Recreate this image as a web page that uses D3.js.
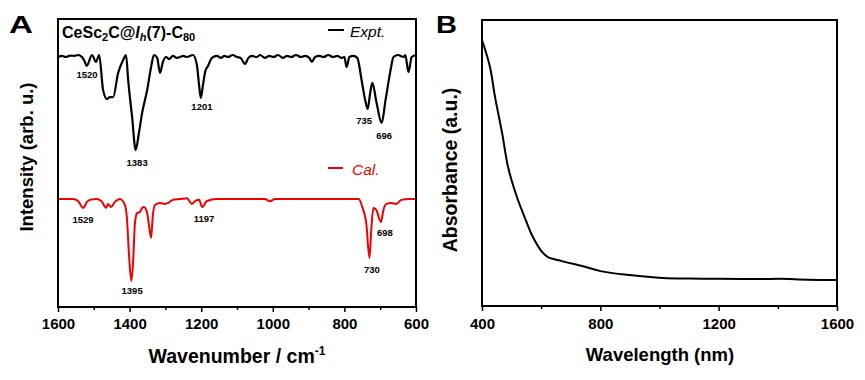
<!DOCTYPE html>
<html>
<head>
    <meta charset="utf-8">
    <title>CeSc2C@Ih(7)-C80 IR and UV-vis-NIR</title>
    <script src="https://d3js.org/d3.v7.min.js"></script>
    <style>
        body { margin: 0; background: #fff; }
        svg text { font-family: Arial, "Liberation Sans", sans-serif; }
        .tick text { font-size: 15px; font-weight: bold; fill: #000; }
        .tick line { stroke: #000; stroke-width: 1.5px; }
        .frame { fill: none; stroke: #000; stroke-width: 2px; }
        .axis-title { font-weight: bold; fill: #000; }
        .peak { font-size: 9.5px; font-weight: bold; fill: #000; text-anchor: middle; }
    </style>
</head>
<body>
    <div id="chart"></div>
    <script>
        // panel A: IR spectra, wavenumber (cm-1) / intensity (arb. u.)
        const exptWave = [1600, 1589, 1578, 1566, 1555, 1544, 1533, 1525, 1520, 1505, 1494, 1485,
            1474, 1463, 1455, 1446, 1432, 1418, 1410, 1404, 1393, 1383, 1374, 1365, 1351, 1340,
            1332, 1323, 1315, 1307, 1298, 1290, 1279, 1268, 1259, 1250, 1240, 1223, 1212, 1206,
            1201, 1195, 1189, 1181, 1170, 1156, 1145, 1135, 1125, 1112, 1100, 1090, 1078, 1068,
            1058, 1045, 1035, 1022, 1010, 998, 985, 972, 960, 948, 935, 922, 910, 898, 891, 882,
            870, 858, 845, 832, 820, 808, 800, 794, 786, 775, 764, 752, 742, 735, 728, 722, 710,
            696, 685, 671, 663, 650, 635, 630, 621, 612, 600];
        const exptInt = [86.8, 87.2, 86.8, 87.3, 87.2, 87.5, 86.8, 85.1, 83.7, 87.5, 85.1, 87.5,
            75.3, 72.2, 72.9, 72.9, 81.3, 85.8, 87.5, 78.8, 66.0, 54.5, 60.4, 67.4, 75.3, 83.3,
            87.5, 86.5, 81.3, 85.1, 86.8, 86.1, 87.2, 86.5, 86.8, 87.2, 86.8, 87.5, 84.0, 77.1,
            72.6, 77.1, 81.6, 83.7, 86.5, 87.2, 86.5, 87.2, 86.8, 87.5, 86.8, 86.5, 84.4, 86.5,
            87.2, 86.8, 87.5, 86.5, 87.2, 86.8, 87.5, 86.5, 87.2, 86.8, 87.5, 86.8, 87.2, 86.5, 85.1, 86.8,
            87.2, 86.8, 87.5, 86.8, 87.2, 86.5, 86.8, 83.3, 86.8, 87.2, 86.5, 78.8, 71.9, 68.8, 74.3, 77.8, 70.8,
            63.9, 71.9, 82.3, 86.8, 87.5, 86.8, 87.5, 81.6, 86.8, 87.5];

        const calWave = [1600, 1580, 1558, 1544, 1530, 1519, 1511, 1491, 1477, 1466, 1460, 1452,
            1441, 1427, 1413, 1407, 1402, 1395, 1390, 1385, 1379, 1371, 1365, 1360, 1351, 1346,
            1340, 1335, 1329, 1315, 1301, 1293, 1279, 1259, 1240, 1226, 1217, 1206, 1197, 1184,
            1156, 1100, 1050, 1022, 1008, 994, 900, 800, 760, 750, 739, 730, 725, 719, 711, 698,
            691, 683, 669, 655, 641, 620, 600];
        const calInt = [37.5, 37.5, 37.5, 36.8, 34.4, 36.5, 37.2, 37.5, 36.5, 34.4, 35.8, 34.7,
            36.5, 37.5, 35.4, 30.2, 18.8, 9.0, 16.3, 29.2, 32.6, 33.0, 34.4, 34.7, 32.6, 28.5,
            24.0, 31.9, 35.4, 36.1, 35.8, 36.1, 37.2, 37.5, 37.8, 35.8, 36.8, 37.2, 34.7, 36.8,
            37.5, 37.5, 37.5, 37.5, 36.7, 37.5, 37.5, 37.5, 37.5, 34.7, 29.2, 17.0, 26.7, 34.4, 33.7, 29.5,
            33.7, 35.8, 36.1, 35.8, 37.2, 37.5, 37.5];

        // peak labels: text, anchor wavenumber, anchor intensity
        const exptPeaks = ["1520", "1383", "1201", "735", "696"];
        const exptPeakWave = [1519, 1379, 1198, 745, 689];
        const exptPeakInt = [79.5, 49.0, 68.4, 63.5, 58.3];
        const calPeaks = ["1529", "1395", "1197", "730", "698"];
        const calPeakWave = [1530, 1393, 1192, 723, 687];
        const calPeakInt = [29.2, 4.5, 29.5, 11.8, 24.7];

        const waveTicks = [1600, 1400, 1200, 1000, 800, 600];
        const waveMinor = [1500, 1300, 1100, 900, 700];

        // panel B: absorption spectrum
        const absWave = [400, 427, 444, 468, 488, 518, 545, 572, 603, 623, 670, 738, 800, 900,
            1012, 1100, 1194, 1280, 1350, 1407, 1500, 1600];
        const absVal = [0.930, 0.836, 0.731, 0.605, 0.486, 0.381, 0.308, 0.241, 0.189, 0.171,
            0.157, 0.140, 0.122, 0.108, 0.098, 0.096, 0.095, 0.094, 0.094, 0.095, 0.092, 0.091];

        const lenTicks = [400, 800, 1200, 1600];
        const lenMinor = [600, 1000, 1400];

        const width = 865, height = 380;
        const red = "#f00000";

        const svg = d3.select("#chart").append("svg")
            .attr("width", width)
            .attr("height", height);

        // ---------- panel A ----------
        const xA = d3.scaleLinear().domain([1600, 600]).range([58, 416]);
        const yA = d3.scaleLinear().domain([0, 100]).range([307, 19]);

        const gA = svg.append("g");

        gA.append("g")
            .attr("transform", "translate(0,307)")
            .call(d3.axisBottom(xA).tickValues(waveMinor).tickSize(3).tickFormat(""))
            .call(g => g.select(".domain").remove());
        gA.append("g")
            .attr("transform", "translate(0,307)")
            .call(d3.axisBottom(xA).tickValues(waveTicks).tickSize(5).tickPadding(6).tickFormat(d3.format("d")))
            .call(g => g.select(".domain").remove());

        const lineA = d3.line().curve(d3.curveMonotoneX);

        gA.append("path")
            .attr("d", lineA(exptWave.map((w, i) => [xA(w), yA(exptInt[i])])))
            .attr("fill", "none")
            .attr("stroke", "#000")
            .attr("stroke-width", 2.2)
            .attr("stroke-linejoin", "round");

        gA.append("path")
            .attr("d", lineA(calWave.map((w, i) => [xA(w), yA(calInt[i])])))
            .attr("fill", "none")
            .attr("stroke", red)
            .attr("stroke-width", 2)
            .attr("stroke-linejoin", "round");

        gA.selectAll(".peak-e")
            .data(exptPeaks)
            .enter().append("text")
            .attr("class", "peak")
            .attr("x", (d, i) => xA(exptPeakWave[i]))
            .attr("y", (d, i) => yA(exptPeakInt[i]))
            .text(d => d);

        gA.selectAll(".peak-c")
            .data(calPeaks)
            .enter().append("text")
            .attr("class", "peak")
            .attr("x", (d, i) => xA(calPeakWave[i]))
            .attr("y", (d, i) => yA(calPeakInt[i]))
            .text(d => d);

        gA.append("rect")
            .attr("class", "frame")
            .attr("x", 58).attr("y", 19)
            .attr("width", 358).attr("height", 288);

        // compound name
        const title = gA.append("text")
            .attr("x", 62).attr("y", 38)
            .attr("font-size", 16)
            .attr("font-weight", "bold");
        title.append("tspan").text("CeSc");
        title.append("tspan").attr("font-size", 11).attr("dy", 3).text("2");
        title.append("tspan").attr("dy", -3).text("C@");
        title.append("tspan").attr("font-style", "italic").text("I");
        title.append("tspan").attr("font-style", "italic").attr("font-size", 11).attr("dy", 3).text("h");
        title.append("tspan").attr("dy", -3).text("(7)-C");
        title.append("tspan").attr("font-size", 11).attr("dy", 3).text("80");

        // legend
        gA.append("line")
            .attr("x1", 328).attr("x2", 344).attr("y1", 30).attr("y2", 30)
            .attr("stroke", "#000").attr("stroke-width", 2);
        gA.append("text")
            .attr("x", 350).attr("y", 37)
            .attr("font-size", 15.5)
            .attr("font-style", "italic")
            .text("Expt.");
        gA.append("line")
            .attr("x1", 328).attr("x2", 343).attr("y1", 168).attr("y2", 168)
            .attr("stroke", red).attr("stroke-width", 2);
        gA.append("text")
            .attr("x", 352).attr("y", 175)
            .attr("font-size", 15.5)
            .attr("font-style", "italic")
            .attr("fill", red)
            .text("Cal.");

        // axis titles
        const xtA = gA.append("text")
            .attr("class", "axis-title")
            .attr("x", 237).attr("y", 363)
            .attr("text-anchor", "middle")
            .attr("font-size", 19.5);
        xtA.append("tspan").text("Wavenumber / cm");
        xtA.append("tspan").attr("font-size", 12).attr("dy", -8).text("-1");

        gA.append("text")
            .attr("class", "axis-title")
            .attr("transform", "translate(33,157) rotate(-90)")
            .attr("text-anchor", "middle")
            .attr("font-size", 18.5)
            .text("Intensity (arb. u.)");

        gA.append("text")
            .attr("x", 9).attr("y", 33)
            .attr("font-size", 23)
            .attr("font-weight", "bold")
            .attr("textLength", 24)
            .attr("lengthAdjust", "spacingAndGlyphs")
            .text("A");

        // ---------- panel B ----------
        const xB = d3.scaleLinear().domain([400, 1600]).range([482, 837]);
        const yB = d3.scaleLinear().domain([0, 1]).range([306, 20]);

        const gB = svg.append("g");

        gB.append("g")
            .attr("transform", "translate(0,306)")
            .call(d3.axisBottom(xB).tickValues(lenMinor).tickSize(3).tickFormat(""))
            .call(g => g.select(".domain").remove());
        gB.append("g")
            .attr("transform", "translate(0,306)")
            .call(d3.axisBottom(xB).tickValues(lenTicks).tickSize(5).tickPadding(7).tickFormat(d3.format("d")))
            .call(g => g.select(".domain").remove());

        gB.append("path")
            .attr("d", d3.line().curve(d3.curveCatmullRom.alpha(0.5))(absWave.map((w, i) => [xB(w), yB(absVal[i])])))
            .attr("fill", "none")
            .attr("stroke", "#000")
            .attr("stroke-width", 2);

        gB.append("rect")
            .attr("class", "frame")
            .attr("x", 482).attr("y", 20)
            .attr("width", 355).attr("height", 286);

        gB.append("text")
            .attr("class", "axis-title")
            .attr("x", 660).attr("y", 361)
            .attr("text-anchor", "middle")
            .attr("font-size", 18.5)
            .text("Wavelength (nm)");

        gB.append("text")
            .attr("class", "axis-title")
            .attr("transform", "translate(457,170) rotate(-90)")
            .attr("text-anchor", "middle")
            .attr("font-size", 19.5)
            .text("Absorbance (a.u.)");

        gB.append("text")
            .attr("x", 436).attr("y", 33)
            .attr("font-size", 23)
            .attr("font-weight", "bold")
            .attr("textLength", 21)
            .attr("lengthAdjust", "spacingAndGlyphs")
            .text("B");
    </script>
</body>
</html>
